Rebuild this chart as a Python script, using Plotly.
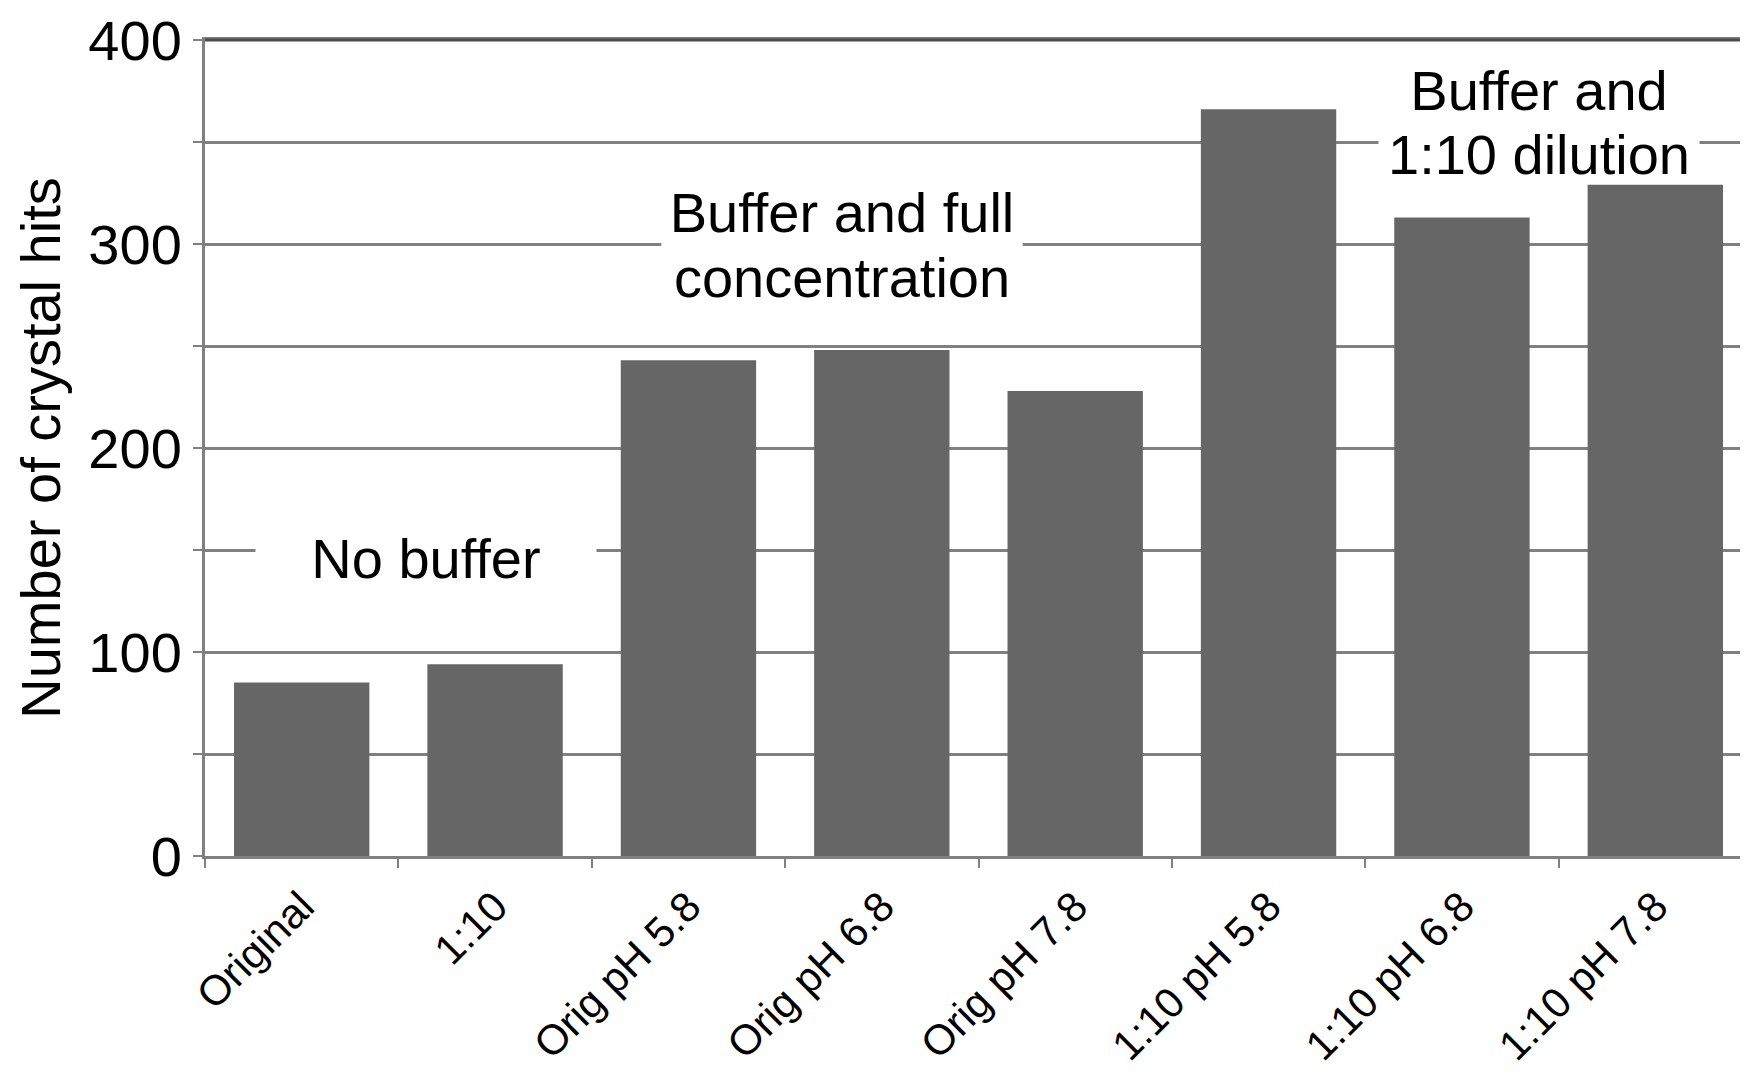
import plotly.graph_objects as go

categories = ["Original", "1:10", "Orig pH 5.8", "Orig pH 6.8", "Orig pH 7.8",
              "1:10 pH 5.8", "1:10 pH 6.8", "1:10 pH 7.8"]
crystal_hits = [85, 94, 243, 248, 228, 366, 313, 329]
y_tick_vals = [0, 100, 200, 300, 400]
group_label_lines = ["No buffer", "Buffer and full", "concentration", "Buffer and", "1:10 dilution"]

FONT = "Liberation Sans, Arial, sans-serif"
GRID = "#808080"
FS = 56

fig = go.Figure()
fig.add_trace(go.Bar(x=categories, y=crystal_hits, marker=dict(color="#666666", line=dict(width=0)),
                     showlegend=False))

fig.update_layout(
    width=1748, height=1081,
    margin=dict(l=197, r=4, t=32, b=233),
    paper_bgcolor="white", plot_bgcolor="white",
    bargap=0.3,
    font=dict(family=FONT, color="black", size=FS),
)
fig.update_xaxes(
    type="category",
    tickson="boundaries",
    ticks="outside", ticklen=9, tickwidth=2, tickcolor=GRID,
    tickangle=-45,
    ticklabelstandoff=6,
    tickfont=dict(size=42, family=FONT, color="black"),
    showline=True, linecolor=GRID, linewidth=3, mirror=True,
    showgrid=False,
    automargin=False,
)
fig.update_yaxes(
    range=[0, 400],
    tickvals=y_tick_vals,
    ticktext=[str(v) for v in y_tick_vals],
    ticklabeloverflow="allow",
    automargin=False,
    tickfont=dict(size=FS, family=FONT, color="black"),
    minor=dict(dtick=50, showgrid=True, gridcolor=GRID, gridwidth=2.5,
               ticks="outside", ticklen=9, tickcolor=GRID, tickwidth=2),
    ticks="outside", ticklen=9, tickwidth=2, tickcolor=GRID,
    showgrid=True, gridcolor=GRID, gridwidth=2.5,
    showline=True, linecolor=GRID, linewidth=3, mirror=True,
    zeroline=False,
    title=dict(text="Number of crystal hits", font=dict(size=FS, family=FONT, color="black"), standoff=10),
)

# darker frame edges at the top and right
fig.add_shape(type="line", xref="paper", yref="paper", x0=0, x1=1, y0=1, y1=1,
              line=dict(color="#4d4d4d", width=3))
fig.add_shape(type="line", xref="paper", yref="paper", x0=1, x1=1, y0=0, y1=1,
              line=dict(color="#4d4d4d", width=3))

# (paper x, data y, box width, box height)
ann_pos = [(0.143, 146, 340, 60), (0.412, 315.5, 360, 66), (0.412, 284, 360, 66),
           (0.862, 375.5, 320, 60), (0.862, 344, 320, 58)]
for text, (px, py, w, h) in zip(group_label_lines, ann_pos):
    fig.add_annotation(x=px, y=py, xref="paper", yref="y", text=text, showarrow=False,
                       font=dict(size=FS, family=FONT, color="black"),
                       bgcolor="white", width=w, height=h, borderpad=0,
                       xanchor="center", yanchor="middle")

fig.write_html("out.html")
